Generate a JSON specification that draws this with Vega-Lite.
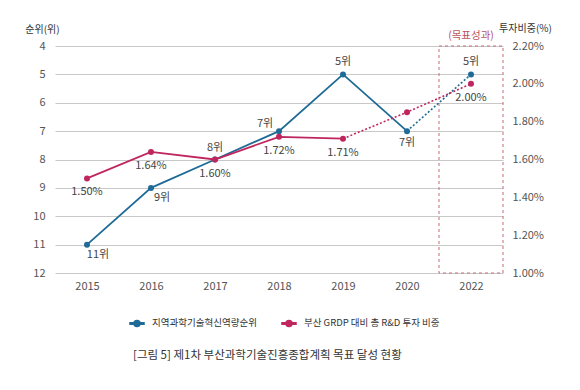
{
  "$schema": "https://vega.github.io/schema/vega-lite/v6.json",
  "width": 448,
  "height": 227,
  "autosize": {"type": "none"},
  "padding": {"left": 55, "top": 46, "right": 77, "bottom": 117},
  "background": "white",
  "config": {
    "font": "Noto Sans CJK KR",
    "view": {"stroke": null},
    "legend": {
      "orient": "none",
      "legendX": 74,
      "legendY": 269,
      "direction": "horizontal",
      "title": null,
      "columnPadding": 22,
      "labelFontSize": 9.5,
      "labelColor": "#333",
      "labelOffset": 7
    }
  },
  "datasets": {
    "d": [
      {"year": 2015, "rank": 11, "pct": 1.50, "rank_label": "11위", "pct_label": "1.50%"},
      {"year": 2016, "rank": 9, "pct": 1.64, "rank_label": "9위", "pct_label": "1.64%"},
      {"year": 2017, "rank": 8, "pct": 1.60, "rank_label": "8위", "pct_label": "1.60%"},
      {"year": 2018, "rank": 7, "pct": 1.72, "rank_label": "7위", "pct_label": "1.72%"},
      {"year": 2019, "rank": 5, "pct": 1.71, "rank_label": "5위", "pct_label": "1.71%"},
      {"year": 2020, "rank": 7, "pct": 1.85, "rank_label": "7위", "pct_label": ""},
      {"year": 2022, "rank": 5, "pct": 2.00, "rank_label": "5위", "pct_label": "2.00%"}
    ],
    "target": [
      {"year": 2022, "rank": 4, "rank2": 12, "label": "(목표성과)"}
    ]
  },
  "data": {"name": "d"},
  "title": {
    "text": "[그림 5] 제1차 부산과학기술진흥종합계획 목표 달성 현황",
    "orient": "bottom",
    "anchor": "start",
    "frame": "group",
    "dx": 78,
    "offset": 20,
    "fontSize": 11.5,
    "fontWeight": "normal",
    "color": "#333"
  },
  "encoding": {
    "x": {
      "field": "year",
      "type": "ordinal",
      "scale": {"type": "point", "domain": [2015, 2016, 2017, 2018, 2019, 2020, 2022], "padding": 0.5},
      "axis": {"title": null, "labelAngle": 0, "domain": false, "ticks": false, "grid": false, "labelPadding": 7, "labelFontSize": 11, "labelColor": "#555"}
    }
  },
  "layer": [
    {
      "encoding": {
        "y": {
          "field": "rank",
          "type": "quantitative",
          "scale": {"domain": [4, 12], "reverse": true, "nice": false, "zero": false},
          "axis": {
            "orient": "left",
            "values": [4, 5, 6, 7, 8, 9, 10, 11, 12],
            "title": "순위(위)",
            "titleAngle": 0,
            "titleX": -13,
            "titleY": -17,
            "titleAlign": "center",
            "titleBaseline": "middle",
            "titleFontSize": 10,
            "titleFontWeight": "normal",
            "titleColor": "#333",
            "labelPadding": 10,
            "labelFontSize": 11,
            "labelColor": "#555",
            "domain": false,
            "ticks": false,
            "grid": true,
            "gridColor": "#c8c8c8",
            "gridWidth": 1
          }
        }
      },
      "layer": [
        {
          "data": {"name": "target"},
          "mark": {"type": "bar", "width": 64, "filled": false, "fill": "transparent", "stroke": "#c86a76", "strokeWidth": 1, "strokeDash": [3, 3]},
          "encoding": {"y2": {"field": "rank2"}}
        },
        {
          "data": {"name": "target"},
          "mark": {"type": "text", "dy": -10, "fontSize": 10.5, "color": "#b9545f"},
          "encoding": {"text": {"field": "label"}}
        },
        {
          "transform": [{"filter": {"field": "year", "lte": 2020}}],
          "mark": {"type": "line", "strokeWidth": 1.8},
          "encoding": {
            "color": {
              "datum": "지역과학기술혁신역량순위",
              "type": "nominal",
              "scale": {"domain": ["지역과학기술혁신역량순위", "부산 GRDP 대비 총 R&D  투자 비중"], "range": ["#1f6b97", "#c0265e"]},
              "legend": {
                "encode": {
                  "symbols": {
                    "update": {
                      "shape": {"value": "M-1,-0.12H1V0.12H-1Z M0.43,0A0.43,0.43,0,1,1,-0.43,0A0.43,0.43,0,1,1,0.43,0Z"},
                      "size": {"value": 196},
                      "fill": {"scale": "color", "field": "value"},
                      "stroke": {"value": "transparent"},
                      "opacity": {"value": 1}
                    }
                  }
                }
              }
            }
          }
        },
        {
          "transform": [{"filter": {"field": "year", "gte": 2020}}],
          "mark": {"type": "line", "strokeWidth": 1.6, "strokeDash": [2, 2]},
          "encoding": {"color": {"datum": "지역과학기술혁신역량순위", "type": "nominal"}}
        },
        {
          "mark": {"type": "point", "filled": true, "size": 36, "opacity": 1},
          "encoding": {"color": {"datum": "지역과학기술혁신역량순위", "type": "nominal"}}
        },
        {
          "transform": [{"filter": {"field": "year", "oneOf": [2015, 2016]}}],
          "mark": {"type": "text", "dx": 11, "dy": 10, "fontSize": 11, "color": "#444"},
          "encoding": {"text": {"field": "rank_label"}}
        },
        {
          "transform": [{"filter": {"field": "year", "oneOf": [2017, 2019, 2022]}}],
          "mark": {"type": "text", "dy": -12, "fontSize": 11, "color": "#444"},
          "encoding": {"text": {"field": "rank_label"}}
        },
        {
          "transform": [{"filter": {"field": "year", "oneOf": [2018]}}],
          "mark": {"type": "text", "dx": -14, "dy": -7, "fontSize": 11, "color": "#444"},
          "encoding": {"text": {"field": "rank_label"}}
        },
        {
          "transform": [{"filter": {"field": "year", "oneOf": [2020]}}],
          "mark": {"type": "text", "dy": 12, "fontSize": 11, "color": "#444"},
          "encoding": {"text": {"field": "rank_label"}}
        }
      ]
    },
    {
      "encoding": {
        "y": {
          "field": "pct",
          "type": "quantitative",
          "scale": {"domain": [1.0, 2.2], "nice": false, "zero": false},
          "axis": {
            "orient": "right",
            "values": [1.0, 1.2, 1.4, 1.6, 1.8, 2.0, 2.2],
            "labelExpr": "format(datum.value, '.2f') + '%'",
            "title": "투자비중(%)",
            "titleAngle": 0,
            "titleX": 22,
            "titleY": -18,
            "titleAlign": "center",
            "titleBaseline": "middle",
            "titleFontSize": 10,
            "titleFontWeight": "normal",
            "titleColor": "#333",
            "labelPadding": 9,
            "labelFontSize": 11,
            "labelColor": "#555",
            "domain": false,
            "ticks": false,
            "grid": false
          }
        }
      },
      "layer": [
        {
          "transform": [{"filter": {"field": "year", "lte": 2019}}],
          "mark": {"type": "line", "strokeWidth": 1.8},
          "encoding": {"color": {"datum": "부산 GRDP 대비 총 R&D  투자 비중", "type": "nominal"}}
        },
        {
          "transform": [{"filter": {"field": "year", "gte": 2019}}],
          "mark": {"type": "line", "strokeWidth": 1.6, "strokeDash": [2, 2]},
          "encoding": {"color": {"datum": "부산 GRDP 대비 총 R&D  투자 비중", "type": "nominal"}}
        },
        {
          "mark": {"type": "point", "filled": true, "size": 36, "opacity": 1},
          "encoding": {"color": {"datum": "부산 GRDP 대비 총 R&D  투자 비중", "type": "nominal"}}
        },
        {
          "mark": {"type": "text", "dy": 14, "fontSize": 11, "color": "#444"},
          "encoding": {"text": {"field": "pct_label"}}
        }
      ]
    }
  ],
  "resolve": {"scale": {"y": "independent"}, "axis": {"y": "independent"}}
}
